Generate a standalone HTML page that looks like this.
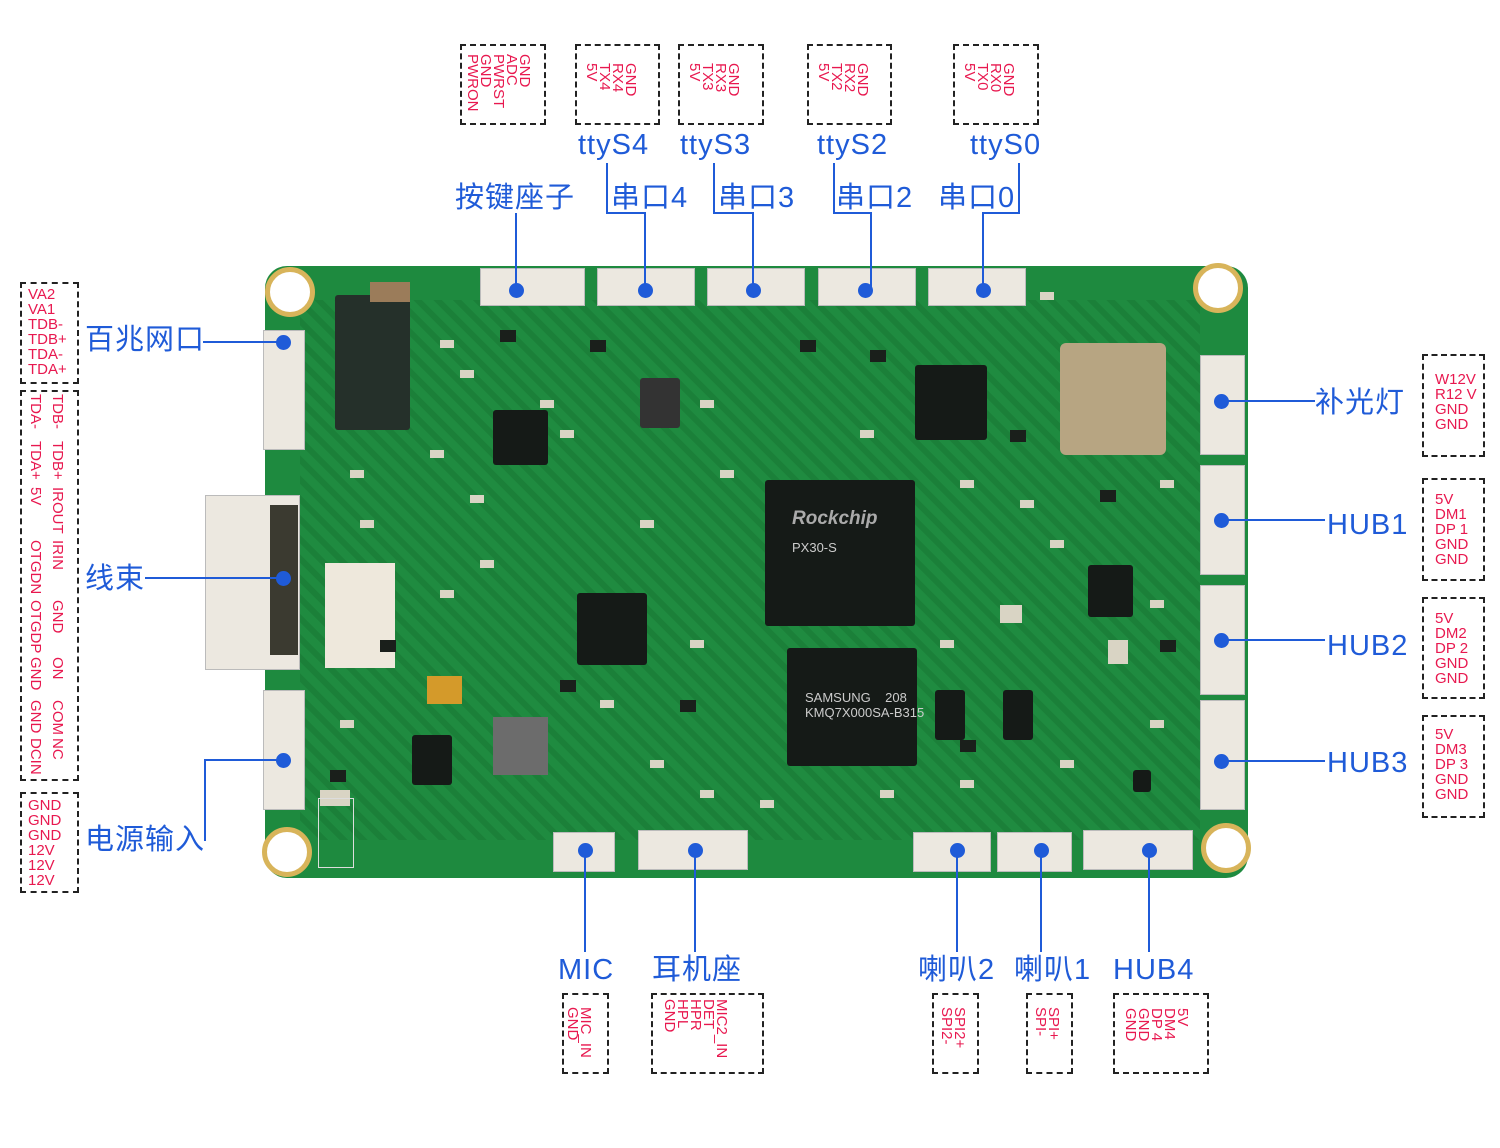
<!DOCTYPE html>
<html><head><meta charset="utf-8"><style>
body{margin:0;width:1500px;height:1148px;background:#fff;position:relative;overflow:hidden;font-family:"Liberation Sans","Noto Sans CJK SC",sans-serif}
.a{position:absolute}
.box{position:absolute;border:2px dashed #222;box-sizing:border-box}
.v{position:absolute;writing-mode:vertical-rl;color:#e8184f;font-size:15px;line-height:13px;white-space:nowrap}
.h{position:absolute;color:#e8184f;font-size:15px;line-height:15px;white-space:pre}
.b{position:absolute;color:#1f5bd8;font-size:29px;line-height:30px;white-space:nowrap;letter-spacing:1px}
.ln{position:absolute;background:#1f5bd8}
.dot{position:absolute;width:15px;height:15px;border-radius:50%;background:#1f5bd8;margin:-7px 0 0 -7px}
.chip{position:absolute;background:#151a17;border-radius:3px}
.con{position:absolute;background:#ece8e0;border:1px solid #bbb;box-sizing:border-box}
.hole{position:absolute;width:40px;height:40px;border-radius:50%;background:#fff;border:5px solid #d8b45a;margin:-25px 0 0 -25px}
.s{position:absolute;background:#d9d4c4;width:14px;height:8px}
.k{position:absolute;background:#1a1f1b;width:16px;height:12px}
</style></head><body>
<!-- board -->
<div class="a" style="left:265px;top:266px;width:983px;height:612px;background:#1e8a3f;border-radius:22px"></div>
<div class="a" style="left:300px;top:300px;width:900px;height:540px;background:repeating-linear-gradient(45deg,#1b8039 0 6px,#1f8b40 6px 14px)"></div>
<div class="hole" style="left:290px;top:292px"></div>
<div class="hole" style="left:1218px;top:288px"></div>
<div class="hole" style="left:287px;top:852px"></div>
<div class="hole" style="left:1226px;top:848px"></div>
<!-- chips -->
<div class="chip" style="left:765px;top:480px;width:150px;height:146px"></div>
<div class="a" style="left:792px;top:508px;color:#aaa;font-size:19px;font-style:italic;font-weight:bold">Rockchip</div>
<div class="a" style="left:792px;top:540px;color:#ccc;font-size:13px">PX30-S</div>
<div class="chip" style="left:787px;top:648px;width:130px;height:118px"></div>
<div class="a" style="left:805px;top:690px;color:#ccc;font-size:13px">SAMSUNG&nbsp;&nbsp;&nbsp;&nbsp;208<br>KMQ7X000SA-B315</div>
<div class="a" style="left:1060px;top:343px;width:106px;height:112px;background:#b7a582;border-radius:6px"></div>
<div class="chip" style="left:915px;top:365px;width:72px;height:75px"></div>
<div class="chip" style="left:335px;top:295px;width:75px;height:135px;background:#25302a"></div>
<div class="chip" style="left:577px;top:593px;width:70px;height:72px"></div>
<div class="chip" style="left:493px;top:410px;width:55px;height:55px"></div>
<div class="chip" style="left:640px;top:378px;width:40px;height:50px;background:#333"></div>
<div class="a" style="left:493px;top:717px;width:55px;height:58px;background:#6c6c6c"></div>
<div class="chip" style="left:1088px;top:565px;width:45px;height:52px"></div>
<div class="a" style="left:325px;top:563px;width:70px;height:105px;background:#eee8dc"></div>
<div class="a" style="left:427px;top:676px;width:35px;height:28px;background:#d49a2a"></div>
<div class="chip" style="left:935px;top:690px;width:30px;height:50px"></div>
<div class="chip" style="left:1003px;top:690px;width:30px;height:50px"></div>
<div class="chip" style="left:1098px;top:1px;width:0;height:0"></div>
<div class="chip" style="left:412px;top:735px;width:40px;height:50px"></div>
<div class="chip" style="left:1133px;top:770px;width:18px;height:22px"></div>
<div class="a" style="left:370px;top:282px;width:40px;height:20px;background:#9b7c5a"></div>
<div class="s" style="left:1040px;top:292px"></div><div class="s" style="left:860px;top:430px"></div><div class="s" style="left:1000px;top:605px;width:22px;height:18px"></div>
<div class="s" style="left:1108px;top:640px;width:20px;height:24px"></div><div class="s" style="left:470px;top:495px"></div><div class="s" style="left:640px;top:520px"></div>
<div class="s" style="left:540px;top:400px"></div><div class="s" style="left:560px;top:430px"></div><div class="s" style="left:700px;top:400px"></div><div class="s" style="left:720px;top:470px"></div>
<div class="s" style="left:480px;top:560px"></div><div class="s" style="left:440px;top:590px"></div><div class="s" style="left:360px;top:520px"></div><div class="s" style="left:690px;top:640px"></div>
<div class="s" style="left:600px;top:700px"></div><div class="s" style="left:650px;top:760px"></div><div class="s" style="left:700px;top:790px"></div><div class="s" style="left:760px;top:800px"></div>
<div class="s" style="left:880px;top:790px"></div><div class="s" style="left:960px;top:780px"></div><div class="s" style="left:1060px;top:760px"></div><div class="s" style="left:1150px;top:720px"></div>
<div class="s" style="left:1160px;top:480px"></div><div class="s" style="left:960px;top:480px"></div><div class="s" style="left:1020px;top:500px"></div><div class="s" style="left:1050px;top:540px"></div>
<div class="s" style="left:940px;top:640px"></div><div class="s" style="left:1150px;top:600px"></div><div class="s" style="left:440px;top:340px"></div><div class="s" style="left:460px;top:370px"></div>
<div class="s" style="left:430px;top:450px"></div><div class="s" style="left:350px;top:470px"></div><div class="s" style="left:340px;top:720px"></div><div class="s" style="left:320px;top:790px;width:30px;height:16px"></div>
<div class="k" style="left:500px;top:330px"></div><div class="k" style="left:590px;top:340px"></div><div class="k" style="left:800px;top:340px"></div><div class="k" style="left:870px;top:350px"></div>
<div class="k" style="left:1010px;top:430px"></div><div class="k" style="left:1100px;top:490px"></div><div class="k" style="left:1160px;top:640px"></div><div class="k" style="left:960px;top:740px"></div>
<div class="k" style="left:330px;top:770px"></div><div class="k" style="left:380px;top:640px"></div><div class="k" style="left:560px;top:680px"></div><div class="k" style="left:680px;top:700px"></div>
<div class="a" style="left:318px;top:798px;width:34px;height:68px;border:1px solid #ddd"></div>
<!-- connectors -->
<div class="con" style="left:480px;top:268px;width:105px;height:38px"></div>
<div class="con" style="left:597px;top:268px;width:98px;height:38px"></div>
<div class="con" style="left:707px;top:268px;width:98px;height:38px"></div>
<div class="con" style="left:818px;top:268px;width:98px;height:38px"></div>
<div class="con" style="left:928px;top:268px;width:98px;height:38px"></div>
<div class="con" style="left:263px;top:330px;width:42px;height:120px"></div>
<div class="con" style="left:205px;top:495px;width:95px;height:175px"></div>
<div class="a" style="left:270px;top:505px;width:28px;height:150px;background:#3b3a30"></div>
<div class="con" style="left:263px;top:690px;width:42px;height:120px"></div>
<div class="con" style="left:1200px;top:355px;width:45px;height:100px"></div>
<div class="con" style="left:1200px;top:465px;width:45px;height:110px"></div>
<div class="con" style="left:1200px;top:585px;width:45px;height:110px"></div>
<div class="con" style="left:1200px;top:700px;width:45px;height:110px"></div>
<div class="con" style="left:553px;top:832px;width:62px;height:40px"></div>
<div class="con" style="left:638px;top:830px;width:110px;height:40px"></div>
<div class="con" style="left:913px;top:832px;width:78px;height:40px"></div>
<div class="con" style="left:997px;top:832px;width:75px;height:40px"></div>
<div class="con" style="left:1083px;top:830px;width:110px;height:40px"></div>

<!-- top boxes -->
<div class="box" style="left:460px;top:44px;width:86px;height:81px"></div>
<div class="v" style="left:466px;top:54px">GND<br>ADC<br>PWRST<br>GND<br>PWRON</div>
<div class="box" style="left:575px;top:44px;width:85px;height:81px"></div>
<div class="v" style="left:585px;top:63px">GND<br>RX4<br>TX4<br>5V</div>
<div class="box" style="left:678px;top:44px;width:86px;height:81px"></div>
<div class="v" style="left:688px;top:63px">GND<br>RX3<br>TX3<br>5V</div>
<div class="box" style="left:807px;top:44px;width:85px;height:81px"></div>
<div class="v" style="left:817px;top:63px">GND<br>RX2<br>TX2<br>5V</div>
<div class="box" style="left:953px;top:44px;width:86px;height:81px"></div>
<div class="v" style="left:963px;top:63px">GND<br>RX0<br>TX0<br>5V</div>

<div class="b" style="left:578px;top:130px">ttyS4</div>
<div class="b" style="left:680px;top:130px">ttyS3</div>
<div class="b" style="left:817px;top:130px">ttyS2</div>
<div class="b" style="left:970px;top:130px">ttyS0</div>
<div class="b" style="left:455px;top:183px">按键座子</div>
<div class="b" style="left:611px;top:183px">串口4</div>
<div class="b" style="left:718px;top:183px">串口3</div>
<div class="b" style="left:836px;top:183px">串口2</div>
<div class="b" style="left:938px;top:183px">串口0</div>

<div class="ln" style="left:515px;top:213px;width:2px;height:77px"></div>
<div class="ln" style="left:606px;top:163px;width:2px;height:50px"></div><div class="ln" style="left:606px;top:212px;width:40px;height:2px"></div><div class="ln" style="left:644px;top:212px;width:2px;height:78px"></div>
<div class="ln" style="left:713px;top:163px;width:2px;height:50px"></div><div class="ln" style="left:713px;top:212px;width:40px;height:2px"></div><div class="ln" style="left:752px;top:212px;width:2px;height:78px"></div>
<div class="ln" style="left:833px;top:163px;width:2px;height:50px"></div><div class="ln" style="left:833px;top:212px;width:38px;height:2px"></div><div class="ln" style="left:870px;top:212px;width:2px;height:78px"></div>
<div class="ln" style="left:1018px;top:163px;width:2px;height:50px"></div><div class="ln" style="left:983px;top:212px;width:37px;height:2px"></div><div class="ln" style="left:982px;top:212px;width:2px;height:78px"></div>
<div class="dot" style="left:516px;top:290px"></div><div class="dot" style="left:645px;top:290px"></div><div class="dot" style="left:753px;top:290px"></div><div class="dot" style="left:865px;top:290px"></div><div class="dot" style="left:983px;top:290px"></div>

<!-- left -->
<div class="box" style="left:20px;top:282px;width:59px;height:102px"></div>
<div class="h" style="left:28px;top:287px">VA2
VA1
TDB-
TDB+
TDA-
TDA+</div>
<div class="b" style="left:85px;top:325px">百兆网口</div>
<div class="ln" style="left:203px;top:341px;width:80px;height:2px"></div><div class="dot" style="left:283px;top:342px"></div>

<div class="box" style="left:20px;top:390px;width:59px;height:391px"></div>
<div class="v" style="left:51px;top:394px">TDB-</div><div class="v" style="left:29px;top:394px">TDA-</div>
<div class="v" style="left:51px;top:441px">TDB+</div><div class="v" style="left:29px;top:441px">TDA+</div>
<div class="v" style="left:51px;top:487px">IROUT</div><div class="v" style="left:29px;top:487px">5V</div>
<div class="v" style="left:51px;top:540px">IRIN</div><div class="v" style="left:29px;top:540px">OTGDN</div>
<div class="v" style="left:51px;top:600px">GND</div><div class="v" style="left:29px;top:600px">OTGDP</div>
<div class="v" style="left:51px;top:657px">ON</div><div class="v" style="left:29px;top:657px">GND</div>
<div class="v" style="left:51px;top:700px">COM</div><div class="v" style="left:29px;top:700px">GND</div>
<div class="v" style="left:51px;top:738px">NC</div><div class="v" style="left:29px;top:738px">DCIN</div>
<div class="b" style="left:85px;top:564px">线束</div>
<div class="ln" style="left:145px;top:577px;width:138px;height:2px"></div><div class="dot" style="left:283px;top:578px"></div>

<div class="box" style="left:20px;top:792px;width:59px;height:101px"></div>
<div class="h" style="left:28px;top:798px">GND
GND
GND
12V
12V
12V</div>
<div class="b" style="left:85px;top:825px">电源输入</div>
<div class="ln" style="left:204px;top:759px;width:2px;height:82px"></div><div class="ln" style="left:204px;top:759px;width:79px;height:2px"></div><div class="dot" style="left:283px;top:760px"></div>

<!-- right -->
<div class="b" style="left:1315px;top:388px">补光灯</div>
<div class="ln" style="left:1221px;top:400px;width:94px;height:2px"></div><div class="dot" style="left:1221px;top:401px"></div>
<div class="box" style="left:1422px;top:354px;width:63px;height:103px"></div>
<div class="h" style="left:1435px;top:372px">W12V
R12 V
GND
GND</div>
<div class="b" style="left:1327px;top:510px">HUB1</div>
<div class="ln" style="left:1221px;top:519px;width:104px;height:2px"></div><div class="dot" style="left:1221px;top:520px"></div>
<div class="box" style="left:1422px;top:478px;width:63px;height:103px"></div>
<div class="h" style="left:1435px;top:492px">5V
DM1
DP 1
GND
GND</div>
<div class="b" style="left:1327px;top:631px">HUB2</div>
<div class="ln" style="left:1221px;top:639px;width:104px;height:2px"></div><div class="dot" style="left:1221px;top:640px"></div>
<div class="box" style="left:1422px;top:597px;width:63px;height:102px"></div>
<div class="h" style="left:1435px;top:611px">5V
DM2
DP 2
GND
GND</div>
<div class="b" style="left:1327px;top:748px">HUB3</div>
<div class="ln" style="left:1221px;top:760px;width:104px;height:2px"></div><div class="dot" style="left:1221px;top:761px"></div>
<div class="box" style="left:1422px;top:715px;width:63px;height:103px"></div>
<div class="h" style="left:1435px;top:727px">5V
DM3
DP 3
GND
GND</div>

<!-- bottom -->
<div class="dot" style="left:585px;top:850px"></div><div class="ln" style="left:584px;top:850px;width:2px;height:102px"></div>
<div class="dot" style="left:695px;top:850px"></div><div class="ln" style="left:694px;top:850px;width:2px;height:102px"></div>
<div class="dot" style="left:957px;top:850px"></div><div class="ln" style="left:956px;top:850px;width:2px;height:102px"></div>
<div class="dot" style="left:1041px;top:850px"></div><div class="ln" style="left:1040px;top:850px;width:2px;height:102px"></div>
<div class="dot" style="left:1149px;top:850px"></div><div class="ln" style="left:1148px;top:850px;width:2px;height:102px"></div>
<div class="b" style="left:558px;top:955px">MIC</div>
<div class="b" style="left:652px;top:955px">耳机座</div>
<div class="b" style="left:918px;top:955px">喇叭2</div>
<div class="b" style="left:1014px;top:955px">喇叭1</div>
<div class="b" style="left:1113px;top:955px">HUB4</div>

<div class="box" style="left:562px;top:993px;width:47px;height:81px"></div>
<div class="v" style="left:566px;top:1007px">MIC_IN<br>GND</div>
<div class="box" style="left:651px;top:993px;width:113px;height:81px"></div>
<div class="v" style="left:663px;top:999px">MIC2_IN<br>DET<br>HPR<br>HPL<br>GND</div>
<div class="box" style="left:932px;top:993px;width:47px;height:81px"></div>
<div class="v" style="left:940px;top:1007px">SPI2+<br>SPI2-</div>
<div class="box" style="left:1026px;top:993px;width:47px;height:81px"></div>
<div class="v" style="left:1034px;top:1007px">SPI+<br>SPI-</div>
<div class="box" style="left:1113px;top:993px;width:96px;height:81px"></div>
<div class="v" style="left:1124px;top:1008px">5V<br>DM4<br>DP 4<br>GND<br>GND</div>
</body></html>
